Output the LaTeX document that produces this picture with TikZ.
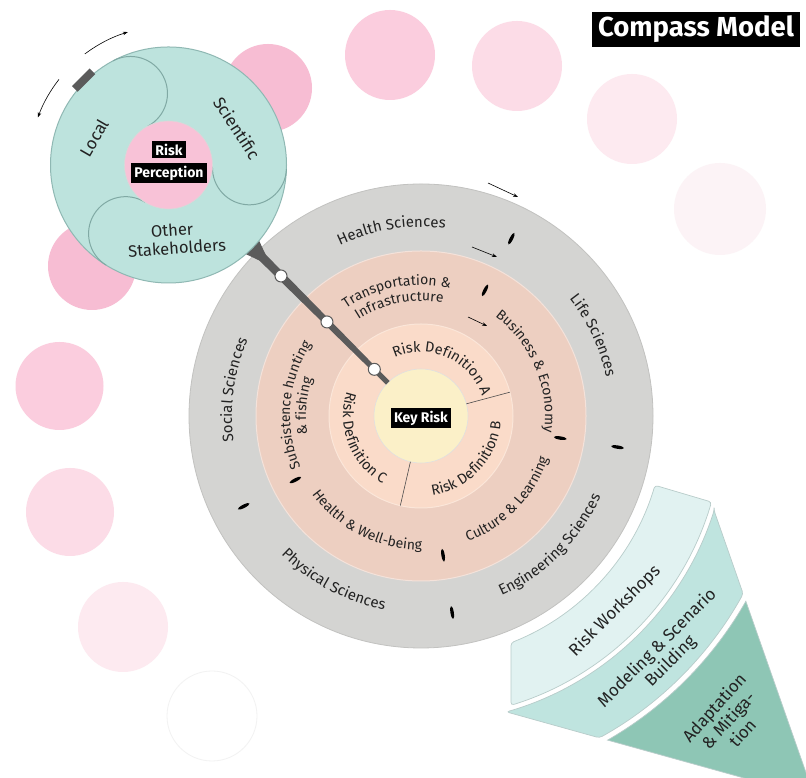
\documentclass[tikz,border=0pt]{standalone}
\usepackage{fontspec}
\setmainfont{Fira Sans}
\usetikzlibrary{calc,decorations.text,arrows.meta,shapes.geometric}
\newcommand\fsz[2]{\fontsize{#1}{#2}\selectfont}
\definecolor{ringgrey}{HTML}{D4D4D2}
\definecolor{ringgreyedge}{HTML}{C2C2C0}
\definecolor{midring}{HTML}{EDCFC1}
\definecolor{innring}{HTML}{FADBC9}
\definecolor{keycol}{HTML}{FBF0C8}
\definecolor{ptr}{HTML}{5B5B5B}
\definecolor{tealc}{HTML}{BDE3DD}
\definecolor{tealedge}{HTML}{8FB8B3}
\definecolor{lobe}{HTML}{80A9A4}
\definecolor{pinkc}{HTML}{F8C2D7}
\definecolor{pinkS}{HTML}{F7BDD3}
\definecolor{pinkB}{HTML}{FBCDDE}
\definecolor{pinkC}{HTML}{FCDCE7}
\definecolor{pinkD}{HTML}{FDEAF0}
\definecolor{pinkE}{HTML}{FCF3F6}
\definecolor{bandA}{HTML}{E1F2F1}
\definecolor{bandB}{HTML}{BFE4DF}
\definecolor{bandC}{HTML}{8EC6B5}
\definecolor{bandedge}{HTML}{B8CCCA}
\definecolor{txt}{HTML}{222222}
\newcommand\cwtext[4]{%
  \path[decorate,decoration={text along path,text align=center,text color=txt,
    text={|\fsz{#3}{#3}|#4}}]
    ($(C)+(#1+60:#2)$) arc[start angle=#1+60, end angle=#1-60, radius=#2];}
\newcommand\ccwtext[4]{%
  \path[decorate,decoration={text along path,text align=center,text color=txt,
    text={|\fsz{#3}{#3}|#4}}]
    ($(C)+(#1-60:#2)$) arc[start angle=#1-60, end angle=#1+60, radius=#2];}
\begin{document}
\begin{tikzpicture}[x=1pt,y=1pt,
  blkbox/.style={fill=black,text=white,font=\bfseries\fsz{14}{16},inner xsep=3pt,inner ysep=2.5pt},
  tickmk/.style={ellipse,fill=black,minimum width=13pt,minimum height=3.4pt,inner sep=0pt},
  ptrcircle/.style={circle,fill=white,draw=ptr,line width=1pt,minimum size=12pt,inner sep=0pt},
  ringarrow/.style={-{Stealth[length=5pt,width=3.5pt]},line width=0.6pt},
  lobeline/.style={draw=lobe,line width=1pt},
  tlab/.style={text=txt,font=\fsz{17}{19}},
  flab/.style={text=txt,font=\fsz{17}{19},align=center,rotate=45},
]
\useasboundingbox (0,0) rectangle (806,778);
\fill[white] (0,0) rectangle (806,778);
\coordinate (C) at (421,362);
\coordinate (T) at (168.5,613);

% background circles
\fill[pinkS] (268,690) circle[radius=44];
\fill[pinkS] (92,512) circle[radius=44];
\fill[pinkB] (390,723) circle[radius=45];
\fill[pinkC] (517,712) circle[radius=45];
\fill[pinkD] (632,659) circle[radius=45];
\fill[pinkE] (720,569) circle[radius=46];
\fill[pinkB] (59.5,392) circle[radius=44];
\fill[pinkC] (70,266) circle[radius=44];
\fill[pinkD] (123,151) circle[radius=45];
\draw[black!5,line width=0.8pt] (212,62) circle[radius=45];

% main rings
\fill[ringgrey] (C) circle[radius=232];
\draw[ringgreyedge,line width=0.8pt] (C) circle[radius=232];
\fill[midring] (C) circle[radius=165];
\draw[white!40!midring,line width=1pt] (C) circle[radius=165];
\fill[innring] (C) circle[radius=92];
\draw[white!30!innring,line width=1pt] (C) circle[radius=92];
\fill[keycol] (C) circle[radius=47];
\draw[black!12,line width=0.6pt] (C) circle[radius=47];
\draw[black!70,line width=0.6pt] ($(C)+(15:47)$) -- ($(C)+(15:92)$);
\draw[black!70,line width=0.6pt] ($(C)+(257:47)$) -- ($(C)+(257:92)$);

% separators
\foreach \a in {63,-9,-81,207}{
  \node[tickmk,rotate=\a] (mo\a) at ($(C)+(\a:199)$) {};
  \node[tickmk,rotate=\a] (mm\a) at ($(C)+(\a:141)$) {};
}

% rotation arrows
\coordinate (oa1) at (488,595); \coordinate (oa2) at (518,581);
\coordinate (ma1) at (472,531); \coordinate (ma2) at (497,521);
\coordinate (ia1) at (468,461); \coordinate (ia2) at (487,452);
\draw[ringarrow] (oa1) -- (oa2);
\draw[ringarrow] (ma1) -- (ma2);
\draw[ringarrow] (ia1) -- (ia2);

% ring labels
\cwtext{99}{189}{15}{Health Sciences}
\cwtext{25}{189}{15}{Life Sciences}
\cwtext{172}{189}{15}{Social Sciences}
\ccwtext{-45}{197}{15}{Engineering Sciences}
\ccwtext{242}{197}{15}{Physical Sciences}
\cwtext{101}{131}{14}{Transportation {\&}}
\cwtext{101}{115}{14}{Infrastructure}
\cwtext{23}{124}{14}{Business {\&} Economy}
\cwtext{175}{131}{14}{Subsistence hunting}
\cwtext{175}{115}{14}{{\&} fishing}
\ccwtext{-44}{134}{14}{Culture {\&} Learning}
\ccwtext{243}{134}{14}{Health {\&} Well-being}
\cwtext{66}{64}{14.5}{Risk Definition A}
\ccwtext{-43}{80}{14.5}{Risk Definition B}
\ccwtext{201}{78}{14.5}{Risk Definition C}

\node[blkbox] (key) at (421,360) {Key Risk};

% funnel
\draw[bandedge,fill=bandA,line width=0.7pt,rounded corners=3pt]
  ($(C)+(-16.5:244)$) arc[start angle=-16.5, end angle=-68.35, radius=244]
  -- ($(C)+(-72.72:303)$) arc[start angle=-72.72, end angle=-16.5, radius=303] -- cycle;
\draw[bandedge,fill=bandB,line width=0.7pt,rounded corners=3pt]
  ($(C)+(-17.9:308)$) -- ($(C)+(-28.9:368)$) arc[start angle=-28.9, end angle=-61.0, radius=368]
  -- ($(C)+(-73.9:308)$) arc[start angle=-73.9, end angle=-17.9, radius=308] -- cycle;
\draw[bandedge,fill=bandC,line width=0.7pt]
  ($(C)+(-29.7:374)$) -- (814.8,-19.7) -- ($(C)+(-60.07:374)$)
  arc[start angle=-60.07, end angle=-29.7, radius=374] -- cycle;
\node[flab] (rw) at (615,167) {Risk Workshops};
\node[flab] (ms) at (664,123) {Modeling \& Scenario\\Building};
\node[flab,rotate=3] (am) at (728,58) {Adaptation\\\& Mitiga-\\tion};

% pointer
\fill[ptr] ($(C)+(135:47)+(45:2.5)$) -- ($(C)+(135:238)+(45:4.5)$)
  -- ($(C)+(135:238)+(225:4.5)$) -- ($(C)+(135:47)+(225:2.5)$) -- cycle;
\fill[ptr] ($(C)+(135:240)+(45:10)$) -- ($(C)+(135:240)+(225:10)$) -- ($(C)+(135:212)$) -- cycle;
\node[ptrcircle] (pc1) at ($(C)+(135:66)$) {};
\node[ptrcircle] (pc2) at ($(C)+(135:133)$) {};
\node[ptrcircle] (pc3) at ($(C)+(135:198)$) {};

% perception circle
\fill[tealc] (T) circle[radius=118];
\draw[tealedge,line width=1pt] (T) circle[radius=118];
\foreach \t in {118,-2,238}{
  \draw[lobeline] ($(T)+(\t:81)+(\t-180:37)$) arc[start angle=\t-180, end angle=\t, radius=37];
}
\fill[pinkc] (T) circle[radius=44];
\draw[black!15,line width=0.6pt] (T) circle[radius=44];
\node[blkbox] (risk) at (169,628.5) {Risk};
\node[blkbox] (perc) at (169,605) {Perception};
\node[tlab,rotate=60] (local) at (94,640) {Local};
\node[tlab,rotate=-57] (sci) at (237,650) {Scientific};
\node[tlab,rotate=4,font=\fsz{16.5}{19}] (oth) at (172,548) {Other};
\node[tlab,rotate=4,font=\fsz{16.5}{19}] (stk) at (177,530) {Stakeholders};
\node[fill=ptr,minimum width=25pt,minimum height=8pt,inner sep=0pt,rotate=45] (handle) at ($(T)+(135:120)$) {};
\draw[ringarrow] ($(T)+(127:139)$) arc[start angle=127, end angle=107, radius=139];
\draw[ringarrow] ($(T)+(142:139)$) arc[start angle=142, end angle=160, radius=139];

% title
\node[fill=black,text=white,font=\bfseries\fsz{27.5}{30},minimum width=208pt,minimum height=35pt,inner sep=0pt] (title) at (696,748.5) {Compass Model};
\end{tikzpicture}
\end{document}
